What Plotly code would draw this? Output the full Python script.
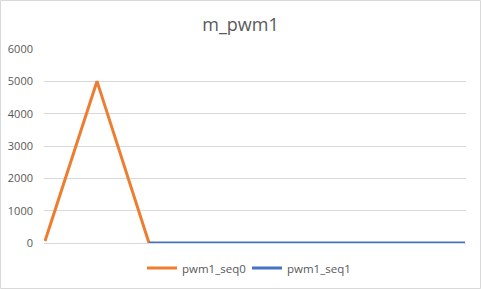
import plotly.graph_objects as go

title = "m_pwm1"
series_names = ["pwm1_seq0", "pwm1_seq1"]
seq0 = [60, 440, 820, 1200, 1560, 1900, 2300, 2700, 3100, 3420, 3800, 4200, 4600,
        5000, 4620, 4230, 3850, 3470, 3100, 2710, 2320, 1940, 1550, 1160, 770, 390, 0]
seq1 = [0] * 80
y_ticks = [0, 1000, 2000, 3000, 4000, 5000, 6000]

n_total = len(seq0) + len(seq1) - 1
x_all = list(range(n_total))
y0 = seq0 + [None] * (n_total - len(seq0))
y1 = [None] * (len(seq0) - 1) + seq1

W, H = 481, 289
ml, mr, mt, mb = 44, 15, 49, 46
pw, ph = W - ml - mr, H - mt - mb

fig = go.Figure()
fig.add_trace(go.Scatter(x=x_all, y=y0, mode="lines", name=series_names[0],
                         line=dict(color="#ED7D31", width=3), connectgaps=False))
fig.add_trace(go.Scatter(x=x_all, y=y1, mode="lines", name=series_names[1],
                         line=dict(color="#4472C4", width=3), connectgaps=False))

fig.update_layout(
    template="none",
    width=W, height=H, autosize=False,
    margin=dict(l=ml, r=mr, t=mt, b=mb, pad=0, autoexpand=False),
    paper_bgcolor="white", plot_bgcolor="white",
    font=dict(family="Open Sans, DejaVu Sans, sans-serif", color="#595959", size=11),
    title=dict(text=title, x=0.5, xanchor="center", y=1 - 25 / H, yanchor="middle",
               font=dict(size=18, color="#595959")),
    xaxis=dict(range=[-0.25, n_total - 0.75], showgrid=False, showticklabels=False,
               zeroline=False, showline=False, ticks="", automargin=False),
    yaxis=dict(range=[0, 6000], tickvals=y_ticks, showgrid=True, gridcolor="#d9d9d9",
               gridwidth=1, zeroline=True, zerolinecolor="#d9d9d9", zerolinewidth=1,
               showline=False, ticks="", ticklabelstandoff=10, automargin=False,
               tickfont=dict(size=11, color="#595959")),
    legend=dict(orientation="h", x=(142 - ml) / pw, xanchor="left", y=-(268 - 243) / ph,
                yanchor="middle", font=dict(size=11.5, color="#595959"),
                itemwidth=30, entrywidth=60, entrywidthmode="pixels",
                traceorder="normal", bgcolor="rgba(0,0,0,0)"),
    showlegend=True,
)

fig.add_shape(type="rect", xref="paper", yref="paper",
              x0=-(ml - 0.5) / pw, x1=1 + (mr - 0.5) / pw,
              y0=-(mb - 0.5) / ph, y1=1 + (mt - 0.5) / ph,
              line=dict(color="#d9d9d9", width=1), fillcolor="rgba(0,0,0,0)", layer="below")

fig.write_html("out.html")
